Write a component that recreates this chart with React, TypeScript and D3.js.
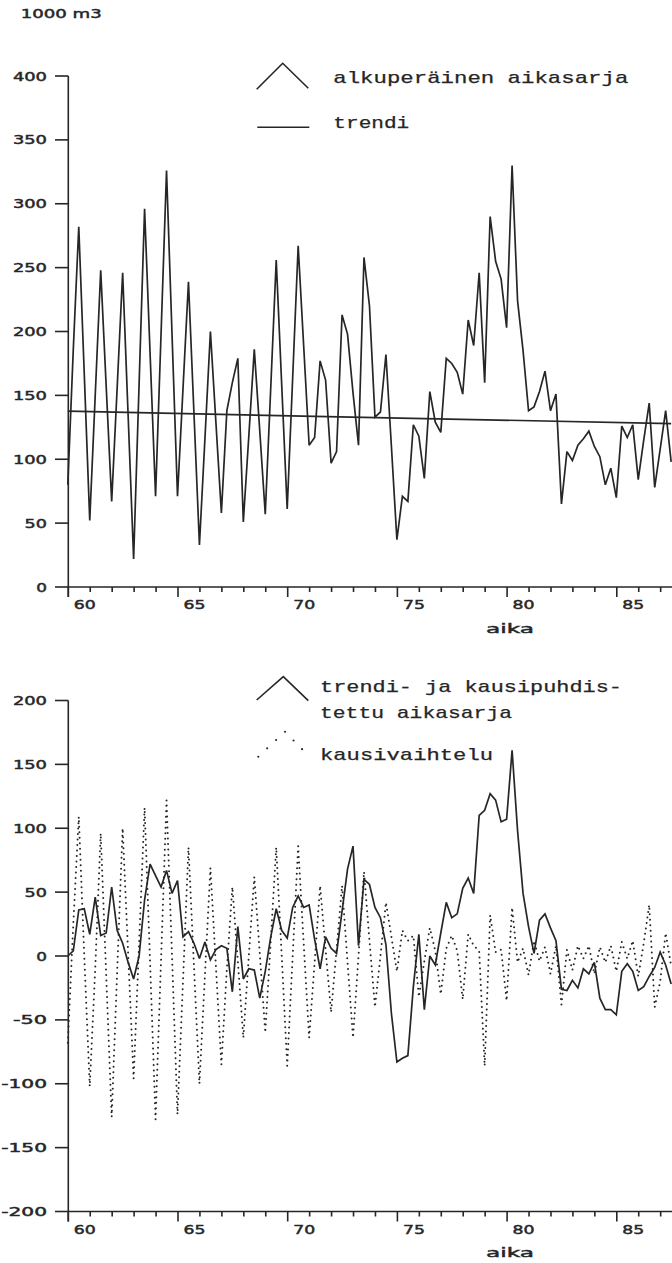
import React from 'react';
import * as d3 from 'd3';

// quarterly series, first quarter of 1960 = 60.0, step one quarter
const START_YEAR = 60;
const STEP = 0.25;

// alkuperäinen aikasarja (1000 m3)
const original = [
  80, 186, 282, 167, 52, 150, 248, 157, 67, 156,
  246, 134, 22, 159, 296, 183, 71, 198, 326, 198,
  71, 155, 239, 136, 33, 116, 200, 129, 58, 138,
  160, 179, 51, 118, 186, 122, 57, 156, 256, 158,
  61, 164, 267, 189, 111, 117, 177, 162, 97, 106,
  213, 198, 152, 111, 258, 220, 133, 137, 182, 110,
  37, 71, 67, 127, 118, 85, 153, 129, 121, 179,
  175, 168, 151, 209, 189, 246, 160, 290, 255, 241,
  203, 330, 224, 185, 138, 141, 153, 169, 138, 151,
  65, 106, 99, 111, 116, 122, 110, 102, 80, 93,
  70, 126, 117, 127, 84, 115, 144, 78, 108, 138,
  98,
];

// trendi: straight line, value at start and at end of the period
const trendEnds = [137.6, 127.9];

// trendi- ja kausipuhdistettu aikasarja
const irregular = [
  0, 4, 36, 37, 17, 46, 16, 18, 54, 20,
  10, -5, -18, 0, 44, 72, 63, 54, 67, 49,
  59, 15, 19, 10, -2, 11, -3, 5, 8, 6,
  -28, 23, -18, -10, -11, -33, -12, 15, 37, 20,
  14, 38, 47, 38, 40, 13, -10, 15, 6, 2,
  35, 68, 86, 8, 60, 56, 38, 30, 9, -45,
  -83, -80, -78, -24, 17, -42, 0, -7, 18, 42,
  30, 33, 53, 61, 49, 110, 114, 127, 122, 105,
  107, 161, 98, 49, 23, 2, 28, 33, 22, 12,
  -26, -27, -19, -25, -10, -14, -5, -33, -42, -42,
  -46, -12, -6, -12, -27, -24, -16, -9, 3, -7,
  -22,
];

// kausivaihtelu
const seasonal = [
  -68, 25, 109, 0, -102, -10, 96, -15, -126, -12,
  100, 2, -96, 10, 116, -5, -128, -3, 122, 0,
  -124, -20, 85, -8, -100, -15, 69, -8, -85, -10,
  54, -4, -64, 0, 62, 2, -60, 12, 85, 0,
  -86, 0, 86, 10, -64, -5, 55, 5, -44, 5,
  55, -5, -64, 0, 66, 12, -40, 0, 42, 15,
  -12, 20, 12, 16, -32, -4, 22, 4, -30, 6,
  16, 4, -34, 17, 8, 4, -86, 32, 3, 5,
  -35, 38, -5, 6, -15, 12, -4, 7, -14, 8,
  -38, 5, -11, 8, -2, 8, -14, 7, -5, 8,
  -12, 11, -2, 12, -16, 10, 40, -40, -20, 18,
  -8,
];

const topYTicks = [0, 50, 100, 150, 200, 250, 300, 350, 400];
const bottomYTicks = [-200, -150, -100, -50, 0, 50, 100, 150, 200];
const yearTicks = [60, 61, 62, 63, 64, 65, 66, 67, 68, 69, 70, 71, 72, 73, 74, 75, 76, 77, 78, 79, 80, 81, 82, 83, 84, 85, 86, 87];
const yearLabels = [60, 65, 70, 75, 80, 85];

const W = 672;
const H = 1263;
const INK = '#262626';
const PLOT_FONT = "'DejaVu Sans', sans-serif";
const TYPE_FONT = "'Liberation Mono', 'DejaVu Sans Mono', monospace";

const x = d3.scaleLinear().domain([60, 87.5]).range([67.8, 67.8 + 27.5 * 21.94]);
const yTop = d3.scaleLinear().domain([0, 400]).range([587, 76]);
const yBot = d3.scaleLinear().domain([-200, 200]).range([1211.5, 700.5]);

const tOf = (i: number) => START_YEAR + i * STEP;

function PlotText(props: { x: number; y: number; len: number; size?: number; anchor?: string; children: React.ReactNode }) {
  return (
    <text
      x={props.x}
      y={props.y}
      textAnchor={props.anchor || 'start'}
      fontFamily={PLOT_FONT}
      fontSize={props.size || 12}
      fill={INK}
      stroke={INK}
      strokeWidth={0.45}
      textLength={props.len}
      lengthAdjust="spacingAndGlyphs"
    >
      {props.children}
    </text>
  );
}

function Axes({ y, ticks, axisY, topY }: { y: d3.ScaleLinear<number, number>; ticks: number[]; axisY: number; topY: number }) {
  const ax = 68.3;
  return (
    <g>
      <g stroke={INK} fill="none" strokeWidth={1.6}>
        <line x1={ax} y1={topY} x2={ax} y2={axisY + 10} />
        <line x1={ax} y1={axisY} x2={W} y2={axisY} />
        {ticks.map((v) => (
          <line key={'yt' + v} x1={55} x2={ax} y1={y(v)} y2={y(v)} />
        ))}
        {yearTicks.map((yr) => (
          <line key={'xt' + yr} x1={x(yr) + 0.5} x2={x(yr) + 0.5} y1={axisY} y2={axisY + (yr % 5 === 0 ? 10 : 5)} />
        ))}
      </g>
      {ticks.map((v) => (
        <PlotText key={'yl' + v} x={47} y={y(v) + 4.5} anchor="end" len={String(v).length * 11.7 - 1}>
          {v < 0 ? '-' + Math.abs(v) : String(v)}
        </PlotText>
      ))}
      {yearLabels.map((yr) => (
        <PlotText key={'xl' + yr} x={x(yr) + 6} y={axisY + 22.3} len={22}>
          {yr}
        </PlotText>
      ))}
      <PlotText x={486} y={axisY + 45.7} size={13} len={48}>
        aika
      </PlotText>
    </g>
  );
}

function Legend({ x0, y0, text, len }: { x0: number; y0: number; text: string; len: number }) {
  return (
    <text
      x={x0}
      y={y0}
      fontFamily={TYPE_FONT}
      fontSize={17}
      fill={INK}
      stroke={INK}
      strokeWidth={0.25}
      textLength={len}
      lengthAdjust="spacingAndGlyphs"
    >
      {text}
    </text>
  );
}

export default function App() {
  const topLine = d3
    .line<number>()
    .x((_, i) => x(tOf(i)))
    .y((d) => yTop(d));
  const botLine = d3
    .line<number>()
    .x((_, i) => x(tOf(i)))
    .y((d) => yBot(d));
  const lastT = tOf(original.length - 1);
  const trendPath = d3
    .line<[number, number]>()
    .x((d) => x(d[0]))
    .y((d) => yTop(d[1]))([
    [START_YEAR, trendEnds[0]],
    [lastT, trendEnds[1]],
  ]);
  const caret = d3.line<[number, number]>();

  return (
    <svg
      width={W}
      height={H}
      viewBox={`0 0 ${W} ${H}`}
      style={{ position: 'absolute', left: 0, top: 0, background: '#fff' }}
    >
      <rect x={0} y={0} width={W} height={H} fill="#fff" />
      <defs>
        <clipPath id="plotclip">
          <rect x={0} y={0} width={W} height={H} />
        </clipPath>
      </defs>

      {/* unit label */}
      <PlotText x={20.7} y={18.3} len={81}>
        1000 m3
      </PlotText>

      {/* ---------- top panel ---------- */}
      <Axes y={yTop} ticks={topYTicks} axisY={yTop(0)} topY={yTop(400)} />
      <g clipPath="url(#plotclip)" fill="none" stroke={INK} strokeWidth={1.7} strokeLinejoin="miter" strokeMiterlimit={3}>
        <path d={topLine(original) || ''} />
        <path d={trendPath || ''} />
      </g>
      {/* legend top */}
      <g fill="none" stroke={INK} strokeWidth={1.6}>
        <path d={caret([[256.7, 89.3], [282.7, 63.3], [308.3, 88.3]]) || ''} />
        <line x1={257.3} x2={309.3} y1={127.3} y2={127.3} />
      </g>
      <Legend x0={333.3} y0={83.3} text="alkuperäinen aikasarja" len={295} />
      <Legend x0={333.3} y0={128.3} text="trendi" len={76} />

      {/* ---------- bottom panel ---------- */}
      <Axes y={yBot} ticks={bottomYTicks} axisY={yBot(-200)} topY={yBot(200)} />
      <g clipPath="url(#plotclip)" fill="none" stroke={INK}>
        <path
          d={botLine(seasonal) || ''}
          strokeWidth={2}
          strokeDasharray="0 5.5"
          strokeLinecap="round"
        />
        <path d={botLine(irregular) || ''} strokeWidth={1.7} strokeLinejoin="miter" strokeMiterlimit={3} />
      </g>
      {/* legend bottom */}
      <g fill="none" stroke={INK}>
        <path d={caret([[256.7, 700], [283.3, 676.7], [308.3, 700.7]]) || ''} strokeWidth={1.6} />
        <path
          d={caret([[258.3, 756.7], [285, 731.7], [310, 757.3]]) || ''}
          strokeWidth={2.1}
          strokeDasharray="0 12.2"
          strokeLinecap="round"
        />
      </g>
      <Legend x0={320} y0={691.7} text="trendi- ja kausipuhdis-" len={302} />
      <Legend x0={320} y0={717.5} text="tettu aikasarja" len={192} />
      <Legend x0={320} y0={760} text="kausivaihtelu" len={173} />
    </svg>
  );
}
